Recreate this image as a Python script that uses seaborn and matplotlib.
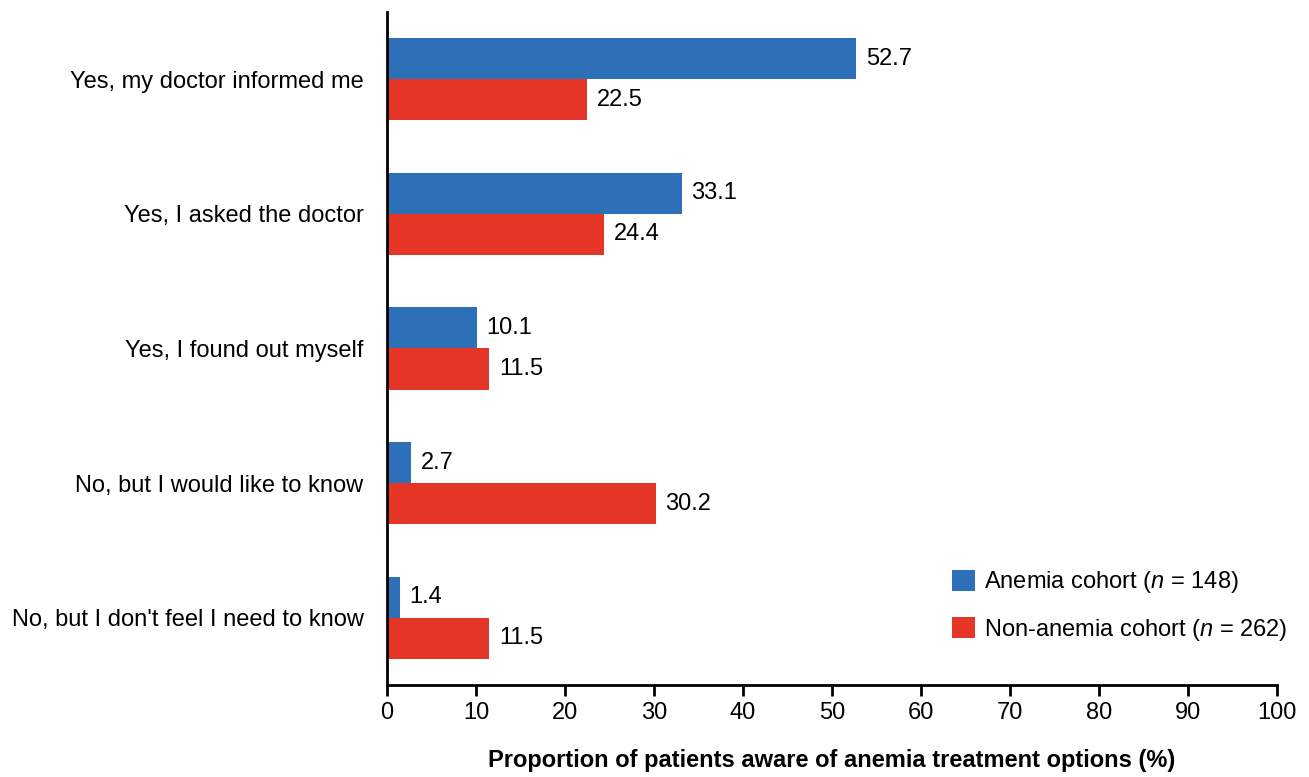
import pandas as pd
import seaborn as sns
import matplotlib.pyplot as plt

categories = ["Yes, my doctor informed me",
              "Yes, I asked the doctor",
              "Yes, I found out myself",
              "No, but I would like to know",
              "No, but I don't feel I need to know"]
anemia = [52.7, 33.1, 10.1, 2.7, 1.4]
non_anemia = [22.5, 24.4, 11.5, 30.2, 11.5]
cohorts = ["Anemia cohort ($\\mathit{n}$ = 148)",
           "Non-anemia cohort ($\\mathit{n}$ = 262)"]
colors = ["#2D70B7", "#E43527"]

df = pd.DataFrame({
    "Answer": categories * 2,
    "Value": anemia + non_anemia,
    "Cohort": [cohorts[0]] * len(categories) + [cohorts[1]] * len(categories),
})

sns.set_style("white")
plt.rcParams["font.family"] = ["Liberation Sans", "DejaVu Sans"]
plt.rcParams["mathtext.fontset"] = "custom"
plt.rcParams["mathtext.it"] = "Liberation Sans:italic"
plt.rcParams["mathtext.rm"] = "Liberation Sans"
plt.rcParams["text.color"] = "black"
plt.rcParams["xtick.color"] = "black"
plt.rcParams["ytick.color"] = "black"
plt.rcParams["axes.labelcolor"] = "black"

fs = 17

fig = plt.figure(figsize=(13.09, 7.77), dpi=100)
ax = fig.add_axes([0.2957, 0.1184, 0.6799, 0.8662])

sns.barplot(data=df, y="Answer", x="Value", hue="Cohort", orient="h",
            palette=colors, width=0.61, order=categories, hue_order=cohorts,
            saturation=1, linewidth=0, edgecolor="none", ax=ax)

for cont in ax.containers:
    ax.bar_label(cont, fmt="%.1f", padding=7, fontsize=fs)

ax.set_xlim(0, 100)
ax.set_ylim(4.5, -0.5)
ax.set_xticks(range(0, 101, 10))
ax.tick_params(axis="x", direction="out", length=8, width=2, labelsize=fs,
               pad=4, bottom=True)
ax.tick_params(axis="y", length=0, labelsize=fs, pad=17)
for side in ["top", "right"]:
    ax.spines[side].set_visible(False)
for side in ["left", "bottom"]:
    ax.spines[side].set_linewidth(2)
    ax.spines[side].set_color("black")

ax.set_ylabel("")
ax.set_xlabel("Proportion of patients aware of anemia treatment options (%)",
              fontsize=fs, fontweight="bold", labelpad=18)

ax.legend(loc="lower right", bbox_to_anchor=(1.035, 0.031), frameon=False,
          fontsize=fs, handlelength=1.0, handleheight=1.0,
          handletextpad=0.35, labelspacing=0.92)

plt.savefig("out.png", dpi=100)
